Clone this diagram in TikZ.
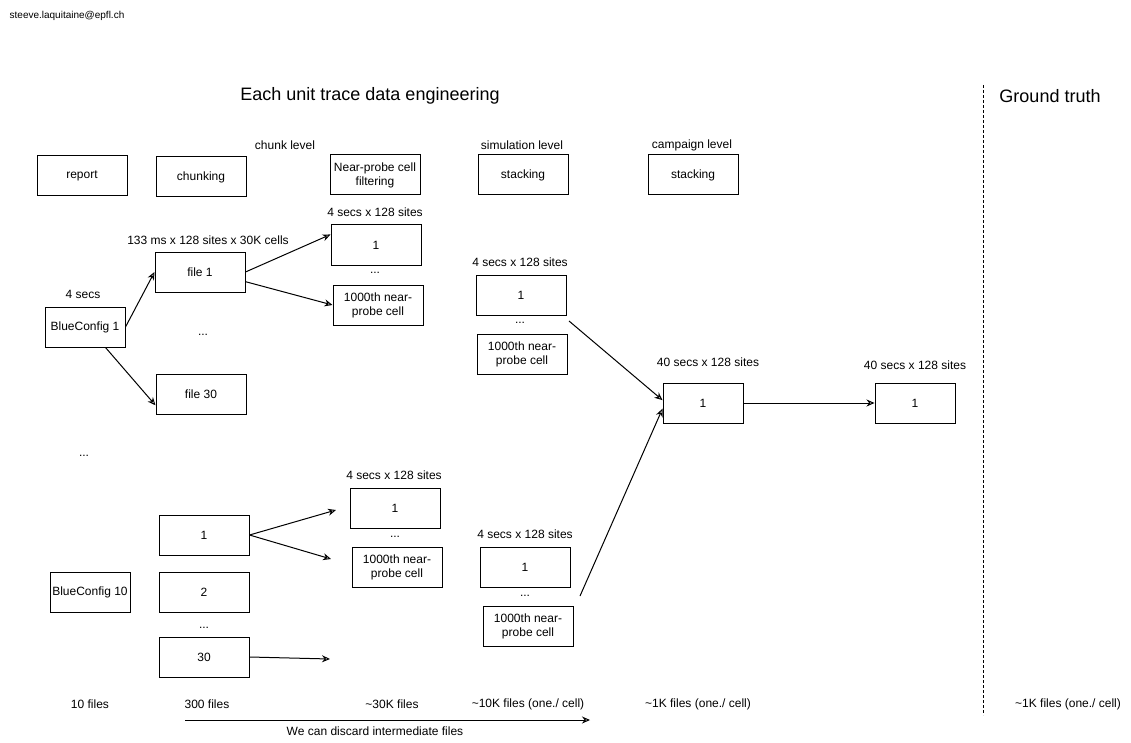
\documentclass[tikz,border=0pt]{standalone}
\usepackage{fontspec}
\setmainfont{Liberation Sans}
\usetikzlibrary{arrows.meta}

\begin{document}
\begin{tikzpicture}[x=1pt,y=-1pt]
    \tikzstyle{box} = [draw, line width=1pt, minimum width=90pt, minimum height=40pt,
        inner sep=1pt, align=center, font=\fontsize{12}{14}\selectfont]
    \tikzstyle{small} = [box, minimum width=80pt]
    \tikzstyle{ann} = [draw=none, fill=none, inner sep=1pt, font=\fontsize{12}{14}\selectfont]
    \tikzstyle{arr} = [line width=1pt, -{Stealth[open,length=8pt,width=7pt]}]

    \useasboundingbox (0,0) rectangle (1131,743);

    % header
    \node[ann, font=\fontsize{10}{12}\selectfont] (mail) at (67,16) {steeve.laquitaine@epfl.ch};
    \node[ann, font=\fontsize{18}{22}\selectfont] (title) at (370,96) {Each unit trace data engineering};
    \node[ann, font=\fontsize{18}{22}\selectfont] (truth) at (1050,96) {Ground truth};

    % steps
    \node[box] (report) at (82,176) {report};
    \node[box] (chunking) at (201,177) {chunking};
    \node[ann] (chunklvl) at (285,145) {chunk level};
    \node[box] (filtering) at (375,175) {Near-probe cell\\filtering};
    \node[ann] (simlvl) at (522,145) {simulation level};
    \node[box] (simstack) at (523,175) {stacking};
    \node[ann] (camplvl) at (692,145) {campaign level};
    \node[box] (campstack) at (693,175) {stacking};

    % first simulation
    \node[ann] (cfgAlbl) at (83,294) {4 secs};
    \node[small] (cfgA) at (85,327) {BlueConfig 1};
    \node[ann] (fileAlbl) at (208,240) {133 ms x 128 sites x 30K cells};
    \node[box] (fileA) at (200,272) {file 1};
    \node[ann] (fileAdots) at (203,335) {...};
    \node[box] (fileAn) at (201,394) {file 30};
    \node[ann] (cfgdots) at (84,456) {...};

    \node[ann] (cellAlbl) at (375,212) {4 secs x 128 sites};
    \node[box] (cellA) at (376,245) {1};
    \node[ann] (cellAdots) at (375,273) {...};
    \node[box] (cellAn) at (378,305) {1000th near-\\probe cell};

    \node[ann] (simAlbl) at (520,262) {4 secs x 128 sites};
    \node[box] (simA) at (521,295) {1};
    \node[ann] (simAdots) at (520,323) {...};
    \node[box] (simAn) at (522,354) {1000th near-\\probe cell};

    % campaign and ground truth
    \node[ann] (camplbl) at (708,362) {40 secs x 128 sites};
    \node[small] (camp) at (703,403) {1};
    \node[ann] (truthlbl) at (915,365) {40 secs x 128 sites};
    \node[small] (truthbox) at (915,403) {1};

    % last simulation
    \node[small] (cfgB) at (90,592) {BlueConfig 10};
    \node[box] (chunkB1) at (204,535) {1};
    \node[box] (chunkB2) at (204,592) {2};
    \node[ann] (chunkBdots) at (204,628) {...};
    \node[box] (chunkBn) at (204,657) {30};

    \node[ann] (cellBlbl) at (394,475) {4 secs x 128 sites};
    \node[box] (cellB) at (395,508) {1};
    \node[ann] (cellBdots) at (395,537) {...};
    \node[box] (cellBn) at (397,567) {1000th near-\\probe cell};

    \node[ann] (simBlbl) at (525,534) {4 secs x 128 sites};
    \node[box] (simB) at (525,567) {1};
    \node[ann] (simBdots) at (525,596) {...};
    \node[box] (simBn) at (528,626) {1000th near-\\probe cell};

    % file counts
    \node[ann] (countA) at (90,704) {10 files};
    \node[ann] (countB) at (207,704) {300 files};
    \node[ann] (countC) at (392,704) {\textasciitilde30K files};
    \node[ann] (countD) at (528,704) {\textasciitilde10K files (one./ cell)};
    \node[ann] (countE) at (698,704) {\textasciitilde1K files (one./ cell)};
    \node[ann] (countF) at (1068,704) {\textasciitilde1K files (one./ cell)};
    \node[ann] (discard) at (375,731) {We can discard intermediate files};

    \coordinate (simAout) at (569,321);
    \coordinate (simBout) at (580,596);
    \coordinate (cellBin) at (336,510);
    \coordinate (cellBnin) at (331,559);
    \coordinate (chunkBout) at (330,659);
    \coordinate (discardA) at (185,720);
    \coordinate (discardB) at (590,720);
    \coordinate (splitA) at (983,85);
    \coordinate (splitB) at (983,715);

    \draw  (cfgA.east) edge[arr] (fileA.west);
    \draw  (cfgA.-45) edge[arr] (fileAn.194);
    \draw  (fileA.east) edge[arr] (cellA.167);
    \draw  (fileA.-12) edge[arr] (cellAn.west);

    \draw  (simAout) edge[arr] (camp.176);
    \draw  (simBout) edge[arr] (camp.188);
    \draw  (camp) edge[arr] (truthbox);

    \draw  (chunkB1.east) edge[arr] (cellBin);
    \draw  (chunkB1.east) edge[arr] (cellBnin);
    \draw  (chunkBn.east) edge[arr] (chunkBout);

    \draw  (discardA) edge[arr] (discardB);
    \draw[line width=1pt, dash pattern=on 3pt off 2pt] (splitA) -- (splitB);

\end{tikzpicture}
\end{document}
